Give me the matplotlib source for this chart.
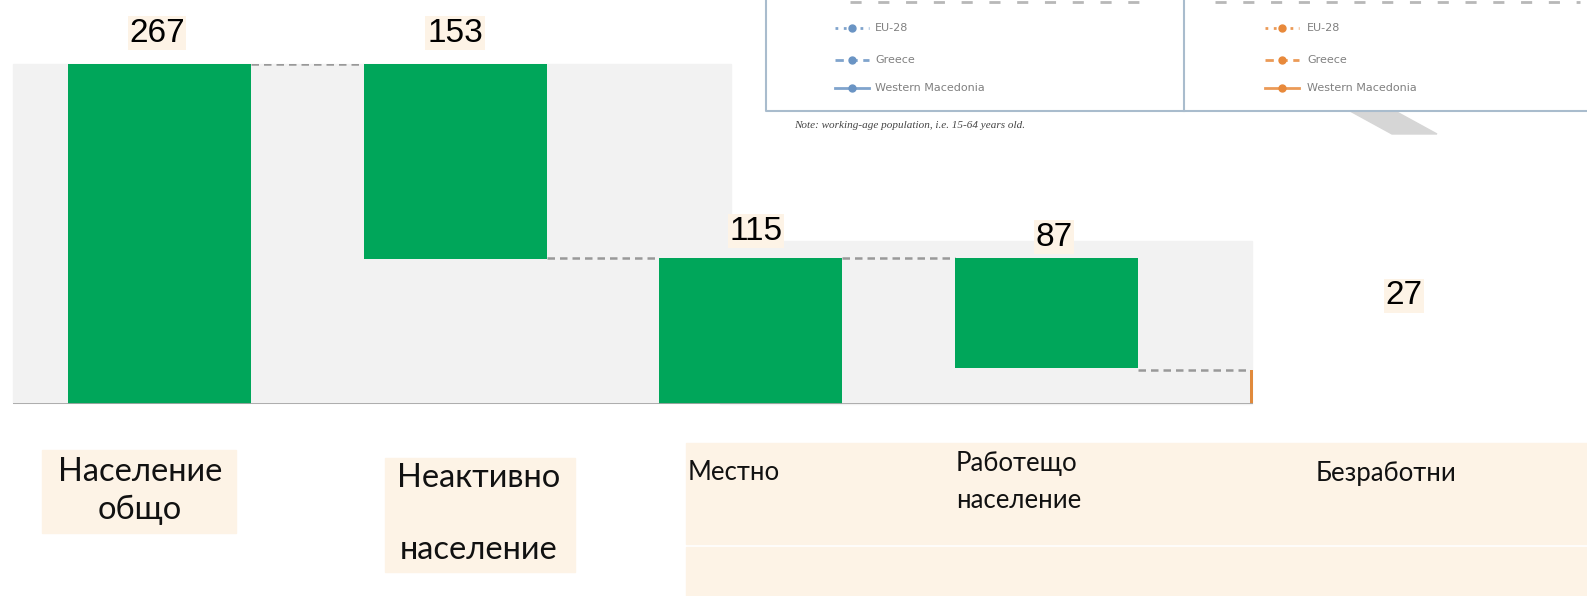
import matplotlib.pyplot as plt
from matplotlib.patches import Rectangle, Polygon
from matplotlib.lines import Line2D

# waterfall data
categories = ["Население\nобщо", "Неактивно\nнаселение", "Местно", "Работещо\nнаселение", "Безработни"]
values = [267, 153, 115, 87, 27]
bottoms = [0, 267 - 153, 0, 115 - 87, 0]
bar_colors = ["#00a65a", "#00a65a", "#00a65a", "#00a65a", "#e08a3c"]

legend_labels = ["EU-28", "Greece", "Western Macedonia"]
legend_styles = [(0, (1, 2)), (0, (3, 2)), "-"]
legend_colors = ["#6a94c4", "#e8893a"]

W, H = 1587, 596
GREY_BG = "#f2f2f2"
BEIGE = "#fdf3e6"


def fx(px):
    return px / W


def fy(py):
    return 1 - py / H


def box(x0, y0, x1, y1, color):
    fig.patches.append(Rectangle((fx(x0), fy(y1)), fx(x1 - x0), (y1 - y0) / H,
                                 transform=fig.transFigure, color=color, zorder=0))


fig = plt.figure(figsize=(W / 100, H / 100), dpi=100)

# grey plot backgrounds (two pasted pieces)
box(720, 241, 1252, 404, GREY_BG)
box(13, 64, 731, 403, GREY_BG)

ax = fig.add_axes([fx(13), fy(404), fx(1253 - 13), (404 - 64) / H], zorder=2)
ax.patch.set_alpha(0)
x = list(range(len(values)))
ax.bar(x, values, bottom=bottoms, width=0.62, color=bar_colors, zorder=3)
ax.set_xlim(-0.497, 3.70)
ax.set_ylim(0, 267)
for s in ax.spines.values():
    s.set_visible(False)
ax.set_xticks([])
ax.set_yticks([])
ax.axhline(0, color="#a6a6a6", lw=2, zorder=4)

# connector lines
levels = [267, 115, 115, 27]
for i, lvl in enumerate(levels):
    ax.plot([i + 0.31, i + 1 - 0.31], [lvl, lvl], ls=(0, (3, 2)), color="#999999", lw=1.8, zorder=2)

# value labels
val_pos = [(157, 33), (455, 33), (756, 231), (1054, 237), (1404, 296)]
for v, (px, py) in zip(values, val_pos):
    fig.text(fx(px), fy(py), str(v), ha="center", va="center", fontsize=24,
             family="Liberation Sans", zorder=5,
             bbox=dict(boxstyle="square,pad=0.05", fc=BEIGE, ec="none"))

# category label backgrounds
box(42, 450, 236, 533, BEIGE)
box(385, 458, 575, 572, BEIGE)
box(686, 443, W, 544, BEIGE)
box(686, 547, W, 596, BEIGE)

big_font = dict(fontsize=23.5, family="Lato", color="#111111", linespacing=1.3, zorder=5)
small_font = dict(fontsize=18.5, family="Lato", color="#111111", linespacing=1.55, zorder=5)
fig.text(fx(140), fy(491), categories[0], ha="center", va="center", **big_font)
line_a, line_b = categories[1].split("\n")
fig.text(fx(479), fy(478), line_a, ha="center", va="center", **big_font)
fig.text(fx(479), fy(550), line_b, ha="center", va="center", **big_font)
fig.text(fx(688), fy(473), categories[2], ha="left", va="center", **small_font)
fig.text(fx(956), fy(482), categories[3], ha="left", va="center", **small_font)
fig.text(fx(1316), fy(473), categories[4], ha="left", va="center", **small_font)

# pasted legend panel (top right)
fig.add_artist(Line2D([fx(766), fx(766), fx(W)], [fy(0), fy(111), fy(111)],
                      color="#a9bccd", lw=1.5))
fig.add_artist(Line2D([fx(1184), fx(1184)], [fy(0), fy(111)], color="#a9bccd", lw=1.5))
fig.add_artist(Line2D([fx(850), fx(1150)], [fy(2), fy(2)], color="#b8b8b8", lw=2, ls=(0, (4, 6))))
fig.add_artist(Line2D([fx(1215), fx(1580)], [fy(2), fy(2)], color="#b8b8b8", lw=2, ls=(0, (4, 6))))
rows = [28, 60, 88]
for col, (lx, tx) in enumerate([(835, 875), (1265, 1307)]):
    for lbl, st, ry in zip(legend_labels, legend_styles, rows):
        fig.add_artist(Line2D([fx(lx), fx(lx + 34)], [fy(ry), fy(ry)], color=legend_colors[col],
                              lw=2, ls=st, alpha=0.85))
        fig.add_artist(Line2D([fx(lx + 17)], [fy(ry)], color=legend_colors[col], marker="o", ms=5))
        fig.text(fx(tx), fy(ry), lbl, ha="left", va="center", fontsize=8, color="#808080",
                 family="DejaVu Sans")

fig.patches.append(Polygon([(fx(1350), fy(111)), (fx(1395), fy(111)), (fx(1437), fy(134)),
                            (fx(1392), fy(134))], closed=True, transform=fig.transFigure,
                           color="#d6d6d6", zorder=0))
fig.text(fx(794), fy(125), "Note: working-age population, i.e. 15-64 years old.",
         ha="left", va="center", fontsize=8, style="italic", family="Liberation Serif",
         color="#444444")

fig.savefig("out.png", dpi=100)
